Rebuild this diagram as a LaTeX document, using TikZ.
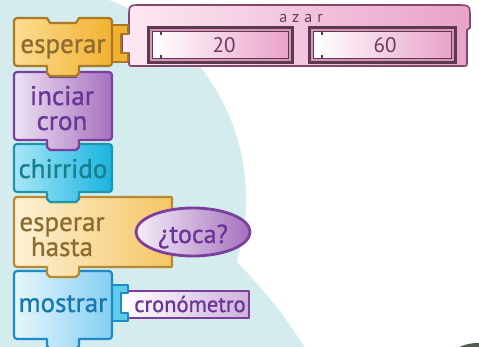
\documentclass[tikz,border=0pt]{standalone}
\usepackage{fontspec}
\setmainfont{PT Sans}[FakeBold=1]
\newfontfamily\thinfont{PT Sans}
\usetikzlibrary{shapes.geometric}
\definecolor{bg}{HTML}{D5ECEF}
\definecolor{orL}{HTML}{FCDD92}\definecolor{orR}{HTML}{F2B130}\definecolor{orD}{HTML}{A87A26}\definecolor{orT}{HTML}{8C6C30}
\definecolor{puL}{HTML}{EDE2F3}\definecolor{puR}{HTML}{A671BF}\definecolor{puD}{HTML}{7B3F9E}\definecolor{puT}{HTML}{693596}
\definecolor{cyL}{HTML}{A8E6F7}\definecolor{cyR}{HTML}{18B4E0}\definecolor{cyD}{HTML}{1A98AA}\definecolor{cyT}{HTML}{16808F}
\definecolor{haL}{HTML}{FDF1D6}\definecolor{haR}{HTML}{F5C664}\definecolor{haD}{HTML}{B88A30}
\definecolor{blL}{HTML}{E6F6FC}\definecolor{blR}{HTML}{84CEF2}\definecolor{blD}{HTML}{1A8CC8}\definecolor{blT}{HTML}{1878AD}
\definecolor{piL}{HTML}{FCE9F3}\definecolor{piR}{HTML}{E9A2C9}\definecolor{piD}{HTML}{83466D}\definecolor{piT}{HTML}{6A3A5E}
\definecolor{slD}{HTML}{5B3A4E}\definecolor{slR}{HTML}{D995BC}
\newcommand{\blkpath}[5]{%
 ({#1},{#2+7}) .. controls ({#1},{#2}) .. ({#1+7},{#2})
 -- ({#1+33},{#2}) -- ({#1+36},{#2+5}) -- ({#1+62},{#2+5}) -- ({#1+65},{#2})
 -- ({#3-#5},{#2}) .. controls ({#3},{#2}) .. ({#3},{#2+#5})
 -- ({#3},{#4-#5}) .. controls ({#3},{#4}) .. ({#3-#5},{#4})
 -- ({#1+65},{#4}) -- ({#1+65},{#4+7}) -- ({#1+62},{#4+10}) -- ({#1+36},{#4+10}) -- ({#1+33},{#4+7}) -- ({#1+33},{#4})
 -- ({#1+7},{#4}) .. controls ({#1},{#4}) .. ({#1},{#4-7}) -- cycle}
\newcommand{\slotbox}[4]{%
 \fill[slD] (#1,#2) rectangle (#3,#4);
 \fill[slR] ({#1+3},{#2+3}) rectangle ({#3-3},{#4-3});
 \shade[left color=white,right color=piR,draw=slD,line width=1pt] ({#1+5.5},{#2+5.5}) rectangle ({#3-5.5},{#4-5.5});
 \fill[slD] ({#1+13},{#2+5}) rectangle ({#1+15},{#2+9});
 \fill[slD] ({#1+13},{#4-9}) rectangle ({#1+15},{#4-5});}
\tikzset{
 lbl/.style={inner sep=0pt, outer sep=0pt, anchor=base, font=\fontsize{27}{27}\selectfont},
 blk/.style={line width=2.2pt, line join=round}
}
\begin{document}
\begin{tikzpicture}[x=1pt,y=-1pt]
\useasboundingbox (0,0) rectangle (479,347);
\begin{scope}
\clip (0,0) rectangle (479,347);
\fill[bg] (33,199) circle (213);
\fill[bg] (-100,600) circle (477);
\shade[top color=black!85!green!40!gray, bottom color=gray!60!olive] (478,374) ellipse (38 and 31);
\end{scope}
% pink azar block
\shade[left color=piL, right color=piR, draw=piD, line width=1.6pt, line join=round]
 (129,17) .. controls (129,5) .. (141,5) -- (456,5) .. controls (470,5) .. (470,18) -- (470,28) -- (467,30) -- (467,62) .. controls (467,66) .. (463,66) -- (133,66) .. controls (129,66) .. (129,62)
 -- (129,53) -- (122,53) -- (122,34) -- (129,34) -- cycle;
\node[lbl, text=piT, font=\thinfont\fontsize{16}{16}\selectfont] (azar) at (301,23) {a\hspace{5pt}z\hspace{5pt}a\hspace{5pt}r};
\slotbox{147}{26}{294}{64}
\slotbox{308}{26}{457}{64}
\node[lbl, text=piT, font=\thinfont\fontsize{21}{21}\selectfont] (n20) at (224,53) {20};
\node[lbl, text=piT, font=\thinfont\fontsize{21}{21}\selectfont] (n60) at (385,53) {60};
% gold connector
\draw[fill=orR, draw=orD, line width=1.3pt, line join=round] (110,25) -- (128,25) -- (128,34) -- (121,34) -- (121,53) -- (128,53) -- (128,62) -- (110,62) -- cycle;
% mostrar + reporter
\shade[left color=white, right color=puR!55, draw=puD, line width=1.6pt, line join=round]
 (127,291) -- (249,291) -- (249,318) -- (127,318) -- (127,313) -- (121,313) -- (121,293) -- (127,293) -- cycle;
\node[lbl, text=puT, font=\fontsize{22.5}{22.5}\selectfont] (crono) at (190,312) {cronómetro};
\draw[fill=cyR!70, draw=blD, line width=1.3pt, line join=round] (110,285) -- (128,285) -- (128,293) -- (121,293) -- (121,313) -- (128,313) -- (128,321) -- (110,321) -- cycle;
\shade[blk, left color=blL, right color=blR, draw=blD] \blkpath{14}{271}{112}{339}{7};
\node[lbl, text=blT] (mostrar) at (63,312) {mostrar};
% esperar hasta
\shade[blk, left color=haL, right color=haR, draw=haD] \blkpath{14}{197}{172}{267}{1.5};
\node[lbl, text=orT, text depth=0pt] (esp2) at (62,231) {esperar};
\node[lbl, text=orT, text height=19pt] (hasta) at (62,256) {hasta};
\node[ellipse, minimum width=114pt, minimum height=48pt, inner sep=0pt, left color=puL!60!white, right color=puR, draw=puD, line width=2.8pt] (tocashape) at (193,232) {};
\node[lbl, text=puT, font=\fontsize{26}{26}\selectfont] (toca) at (193,243) {¿toca?};
% chirrido
\shade[blk, left color=cyL, right color=cyR, draw=cyD] \blkpath{14}{144}{112}{192}{7};
\node[lbl, text=cyT] (chirrido) at (63,178) {chirrido};
% inciar cron
\shade[blk, left color=puL, right color=puR, draw=puD] \blkpath{14}{72}{112}{140}{7};
\node[lbl, text=puT, text depth=0pt] (inciar) at (62,105) {inciar};
\node[lbl, text=puT, text height=13pt] (cron) at (62,130) {cron};
% esperar
\shade[blk, left color=orL, right color=orR, draw=orD] \blkpath{14}{18}{112}{66}{7};
\node[lbl, text=orT] (esp1) at (63,53) {esperar};
\end{tikzpicture}
\end{document}
